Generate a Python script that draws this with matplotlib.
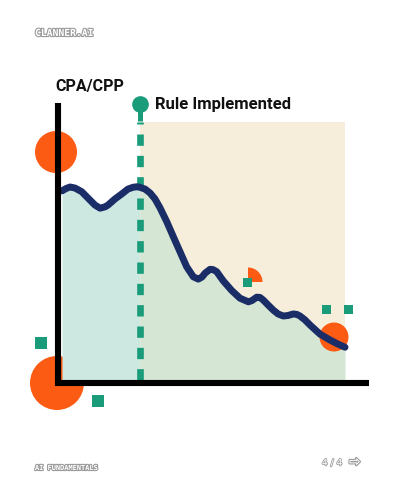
import matplotlib
matplotlib.use("Agg")
import matplotlib.pyplot as plt
import matplotlib.patheffects as pe
from matplotlib.patches import Circle, Wedge, Rectangle
from matplotlib.lines import Line2D
import numpy as np

# CPA/CPP index at these weeks
weeks = [0.00, 0.28, 0.57, 0.92, 1.39, 1.84, 2.33, 2.69, 3.04, 3.25,
         3.75, 4.22, 4.66, 5.02, 5.30, 5.50, 5.87, 6.22, 6.57, 6.93,
         7.40, 7.87, 8.34, 8.81, 9.28, 9.63, 9.89, 10.11, 10.46, 10.67,
         10.93, 11.40, 11.99, 12.58, 13.17, 13.43, 13.76, 13.99, 14.22, 14.56,
         14.93, 15.27, 15.64, 15.97, 16.35, 16.61, 16.82, 17.17, 17.53, 18.23,
         18.94, 19.43, 20.00]
cpa = [73.3, 74.2, 74.8, 74.4, 73.0, 70.5, 67.8, 66.6, 67.1, 67.8,
       70.2, 72.1, 74.0, 74.7, 74.9, 74.7, 74.0, 72.5, 70.2, 66.7,
       61.4, 55.5, 49.7, 43.9, 40.0, 39.1, 39.9, 41.4, 42.9, 42.8,
       42.0, 38.4, 34.7, 31.7, 30.3, 30.8, 32.1, 32.0, 31.0, 29.1,
       27.1, 25.6, 24.8, 25.0, 25.6, 25.4, 24.8, 23.3, 21.3, 17.8,
       15.5, 14.1, 12.7]
rule_week = 5.5

y_label = "CPA/CPP"
rule_label = "Rule Implemented"
brand = "CLANNER.AI"
footer = "AI FUNDAMENTALS"
page = "4 / 4"
arrow = "\u21e8"

navy = "#1b2d66"
teal = "#1a9c7b"
orange = "#fb5b12"

fig = plt.figure(figsize=(4, 5), dpi=100)
fig.patch.set_facecolor("white")

# pixel-space helper axes for the decorations
deco = fig.add_axes([0, 0, 1, 1])
deco.set_xlim(0, 400)
deco.set_ylim(500, 0)
deco.axis("off")
deco.set_zorder(0)

ax = fig.add_axes([62 / 400, 120 / 500, 283 / 400, 258 / 500])
ax.set_zorder(1)
ax.patch.set_visible(False)
ax.set_xlim(0, 20)
ax.set_ylim(0, 100)
ax.axis("off")

x = np.array(weeks)
y = np.array(cpa)

ax.axvspan(rule_week, 20, color="#f6eedb", zorder=0, lw=0)
ax.fill_between(x, y, 0, where=x <= rule_week, color="#cde8e1", lw=0, zorder=1)
ax.fill_between(x, y, 0, where=x >= rule_week, color="#d5e7d4", lw=0, zorder=1)

# decorative blobs (deco y axis is flipped)
T = deco.transData
for cx, cy, r, z in [(56, 152, 21, 2), (57, 383, 27, 0.5), (334, 337, 14.5, 2)]:
    ax.add_patch(Circle((cx, cy), r, color=orange, transform=T, clip_on=False, zorder=z, lw=0))
ax.add_patch(Wedge((248, 282), 14.5, 270, 360, color=orange, transform=T,
                   clip_on=False, zorder=2, lw=0))

# rule line
ax.plot([rule_week, rule_week], [0, 100], color=teal, lw=4.8,
        dashes=(1.7, 1.5), zorder=3, clip_on=False)
ax.plot([rule_week, rule_week], [100.5, 107], color=teal, lw=3.6,
        zorder=3, clip_on=False, solid_capstyle="butt")
ax.plot([rule_week], [107], "o", color=teal, ms=11, zorder=3, clip_on=False)

ax.plot(x, y, color=navy, lw=5, zorder=4, solid_capstyle="round",
        solid_joinstyle="round", clip_on=False)

# axis bars
ax.add_line(Line2D([58, 58], [103, 386], color="black", lw=4.4, transform=T,
                   clip_on=False, zorder=5, solid_capstyle="butt"))
ax.add_line(Line2D([55, 369], [383, 383], color="black", lw=4.4, transform=T,
                   clip_on=False, zorder=5, solid_capstyle="butt"))

for cx, cy, s in [(40.5, 342.5, 12), (98, 401, 12), (247.5, 282.5, 9),
                  (326.5, 309.5, 9), (348.5, 309.5, 9)]:
    ax.add_patch(Rectangle((cx - s / 2, cy - s / 2), s, s, color=teal,
                           transform=T, clip_on=False, zorder=6, lw=0))

deco.text(55, 86.5, y_label, fontsize=11.5, fontweight="bold", family="Roboto",
          va="center", ha="left", color="#111111")
deco.text(155, 105, rule_label, fontsize=12, fontweight="bold", family="Roboto",
          va="center", ha="left", color="#111111")

emboss = [pe.withStroke(linewidth=1.6, foreground="#9a9a9a")]
deco.text(35, 33, brand, fontsize=7, family="DejaVu Sans Mono", fontweight="bold",
          color="white", va="center", ha="left", path_effects=emboss)
deco.text(35, 468, footer, fontsize=5, family="DejaVu Sans Mono", fontweight="bold",
          color="white", va="center", ha="left", path_effects=emboss)
deco.text(322, 463, page, fontsize=6.5, family="DejaVu Sans",
          color="white", va="center", ha="left",
          path_effects=[pe.withStroke(linewidth=1.2, foreground="#a0a0a0")])
deco.text(349, 462, arrow, fontsize=10, family="DejaVu Sans", fontweight="bold",
          color="white", va="center", ha="left", path_effects=emboss)

fig.savefig("out.png", dpi=100, facecolor="white")
